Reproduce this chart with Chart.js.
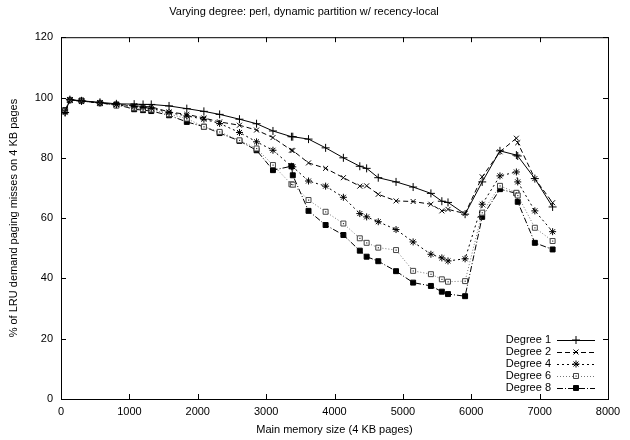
<!DOCTYPE html>
<html>
<head>
<meta charset="utf-8">
<script src="https://cdn.jsdelivr.net/npm/chart.js@4.4.0/dist/chart.umd.min.js"></script>
<style>
    body { margin: 0; background: #fff; }
    .chart { width: 630px; height: 440px; }
</style>
</head>
<body>
<div class="chart"><canvas id="myChart"></canvas></div>
<script>
// main memory size (4 KB pages)
const memSize = [60, 130, 300, 570, 810, 1070, 1200, 1320, 1580, 1840, 2090, 2320, 2610, 2860, 3100, 3370, 3390,
    3620, 3870, 4130, 4370, 4470, 4640, 4900, 5150, 5410, 5570, 5660, 5910, 6160, 6420, 6660, 6680, 6930, 7190];

const degree1 = [95.0, 99.3, 98.9, 98.4, 97.9, 97.8, 97.7, 97.7, 97.2, 96.3, 95.4, 94.4, 92.8, 91.3, 88.9, 87.0, 87.0,
    86.2, 83.3, 80.0, 77.2, 76.5, 73.4, 72.0, 70.3, 68.2, 65.6, 65.2, 61.3, 72.0, 82.3, 80.9, 80.6, 73.1, 63.7];
const degree2 = [95.3, 99.2, 98.8, 98.2, 97.7, 97.3, 97.0, 96.9, 95.2, 94.4, 93.2, 91.9, 90.8, 89.2, 86.7, 82.5, 82.4,
    78.3, 76.5, 73.4, 70.6, 70.7, 67.9, 65.7, 65.5, 64.6, 62.4, 62.9, 61.5, 73.7, 82.0, 86.5, 85.0, 73.1, 65.1];
const degree4 = [95.0, 99.2, 98.8, 98.2, 97.6, 97.0, 96.7, 96.4, 95.0, 93.9, 92.8, 91.4, 88.4, 85.3, 82.5, 77.2, 77.0,
    72.3, 70.6, 66.9, 61.5, 60.4, 58.8, 56.2, 52.1, 48.0, 46.8, 45.8, 46.5, 64.6, 74.0, 75.3, 72.0, 62.4, 55.5];
const degree6 = [95.5, 99.1, 98.8, 98.2, 97.3, 96.6, 96.2, 96.0, 94.5, 93.0, 90.3, 88.6, 85.8, 83.1, 77.6, 71.2, 71.1,
    66.0, 62.1, 58.2, 53.3, 51.8, 50.2, 49.4, 42.5, 41.4, 39.7, 38.9, 39.1, 61.8, 70.7, 68.4, 67.5, 56.8, 52.4];
const degree8 = [95.8, 99.2, 99.0, 98.1, 97.7, 96.1, 95.8, 95.5, 94.1, 91.9, 90.3, 88.2, 85.6, 82.5, 75.9, 77.2, 74.2,
    62.4, 57.7, 54.4, 49.2, 47.2, 45.7, 42.4, 38.6, 37.5, 35.6, 34.8, 34.1, 60.4, 69.6, 68.2, 65.4, 51.8, 49.6];

const seriesNames = ['Degree 1', 'Degree 2', 'Degree 4', 'Degree 6', 'Degree 8'];
const xTicks = [0, 1000, 2000, 3000, 4000, 5000, 6000, 7000, 8000];
const yTicks = [0, 20, 40, 60, 80, 100, 120];

const font = 'Liberation Sans, Arial, Helvetica, sans-serif';
let ctx = document.getElementById('myChart');

function points(values) {
    return values.map((v, i) => ({ x: memSize[i], y: v }));
}

function makeSet(label, values, style) {
    return Object.assign({
        label: label,
        data: points(values),
        borderColor: '#000',
        backgroundColor: '#000',
        pointBorderColor: '#000',
        borderWidth: 1,
        pointBorderWidth: 1,
        pointRadius: 3.5,
        tension: 0,
        fill: false
    }, style);
}

// gnuplot style frame: box round the plot, ticks pointing inwards on all four sides
const frame = {
    id: 'frame',
    afterDraw(chart) {
        const c = chart.ctx;
        const a = chart.chartArea;
        const sx = chart.scales.x;
        const sy = chart.scales.y;
        c.save();
        c.strokeStyle = '#000';
        c.lineWidth = 1;
        c.strokeRect(a.left + 0.5, a.top + 0.5, a.right - a.left, a.bottom - a.top);
        c.beginPath();
        sx.ticks.forEach(t => {
            let px = Math.round(sx.getPixelForValue(t.value)) + 0.5;
            c.moveTo(px, a.bottom); c.lineTo(px, a.bottom - 5);
            c.moveTo(px, a.top); c.lineTo(px, a.top + 5);
        });
        sy.ticks.forEach(t => {
            let py = Math.round(sy.getPixelForValue(t.value)) + 0.5;
            c.moveTo(a.left, py); c.lineTo(a.left + 5, py);
            c.moveTo(a.right, py); c.lineTo(a.right - 5, py);
        });
        c.stroke();
        c.restore();
    }
};

// small dot inside the open squares of Degree 6
const dots = {
    id: 'dots',
    afterDatasetsDraw(chart) {
        const c = chart.ctx;
        const meta = chart.getDatasetMeta(3);
        c.save();
        c.fillStyle = '#333';
        meta.data.forEach(p => c.fillRect(p.x - 0.5, p.y - 0.5, 1.2, 1.2));
        c.restore();
    }
};

// legend in the lower right corner: label first, then the line sample
const keyBox = {
    id: 'keyBox',
    afterDraw(chart) {
        const c = chart.ctx;
        const a = chart.chartArea;
        const right = a.right - 13;
        c.save();
        c.font = '11px ' + font;
        c.textAlign = 'right';
        c.textBaseline = 'middle';
        chart.data.datasets.forEach((ds, i) => {
            let y = a.bottom - 59 + i * 12;
            c.fillStyle = '#000';
            c.fillText(ds.label, right - 44, y);
            c.strokeStyle = ds.borderColor;
            c.lineWidth = 1;
            c.setLineDash(ds.borderDash || []);
            c.beginPath();
            c.moveTo(right - 38, y + 0.5);
            c.lineTo(right, y + 0.5);
            c.stroke();
            c.setLineDash([]);
            c.fillStyle = ds.pointBackgroundColor || ds.backgroundColor;
            c.strokeStyle = ds.pointBorderColor;
            Chart.helpers.drawPoint(c, {
                pointStyle: ds.pointStyle,
                radius: ds.pointRadius,
                borderWidth: 1,
                rotation: 0
            }, right - 19, y);
            if (i === 3) {
                c.fillStyle = '#333';
                c.fillRect(right - 19.5, y - 0.5, 1.2, 1.2);
            }
        });
        c.restore();
    }
};

new Chart(ctx, {
    type: 'line',
    data: {
        datasets: [
            makeSet(seriesNames[0], degree1, { pointStyle: 'cross', pointRadius: 4 }),
            makeSet(seriesNames[1], degree2, { pointStyle: 'crossRot', borderDash: [5, 3] }),
            makeSet(seriesNames[2], degree4, { pointStyle: 'star', borderDash: [2, 3] }),
            makeSet(seriesNames[3], degree6, {
                pointStyle: 'rect', borderDash: [1, 2], borderColor: '#777',
                pointBackgroundColor: '#fff', pointBorderColor: '#444'
            }),
            makeSet(seriesNames[4], degree8, { pointStyle: 'rect', borderDash: [6, 2, 1, 2] })
        ]
    },
    options: {
        responsive: true,
        maintainAspectRatio: false,
        animation: false,
        layout: { padding: { left: 0, right: 22, top: 0, bottom: 0 } },
        plugins: {
            legend: { display: false },
            tooltip: { enabled: false },
            title: {
                display: true,
                text: 'Varying degree: perl, dynamic partition w/ recency-local',
                color: '#000',
                font: { family: font, size: 11, weight: 'normal' },
                padding: { top: 5, bottom: 19 }
            }
        },
        scales: {
            x: {
                type: 'linear',
                min: 0,
                max: 8000,
                afterBuildTicks: s => { s.ticks = xTicks.map(v => ({ value: v })); },
                afterFit: s => { s.height = 41; },
                grid: { display: false, drawTicks: false },
                border: { display: false },
                ticks: {
                    color: '#000', padding: 6, maxRotation: 0,
                    font: { family: font, size: 11 },
                    callback: v => String(v)
                },
                title: {
                    display: true,
                    text: 'Main memory size (4 KB pages)',
                    color: '#000',
                    padding: { top: 4, bottom: 3 },
                    font: { family: font, size: 11 }
                }
            },
            y: {
                min: 0,
                max: 120,
                afterBuildTicks: s => { s.ticks = yTicks.map(v => ({ value: v })); },
                afterFit: s => { s.width = 61; },
                grid: { display: false, drawTicks: false },
                border: { display: false },
                ticks: { color: '#000', padding: 8, font: { family: font, size: 11 } },
                title: {
                    display: true,
                    text: '% of LRU demand paging misses on 4 KB pages',
                    color: '#000',
                    padding: { top: 7, bottom: 0 },
                    font: { family: font, size: 11 }
                }
            }
        }
    },
    plugins: [frame, dots, keyBox]
});
</script>
</body>
</html>
